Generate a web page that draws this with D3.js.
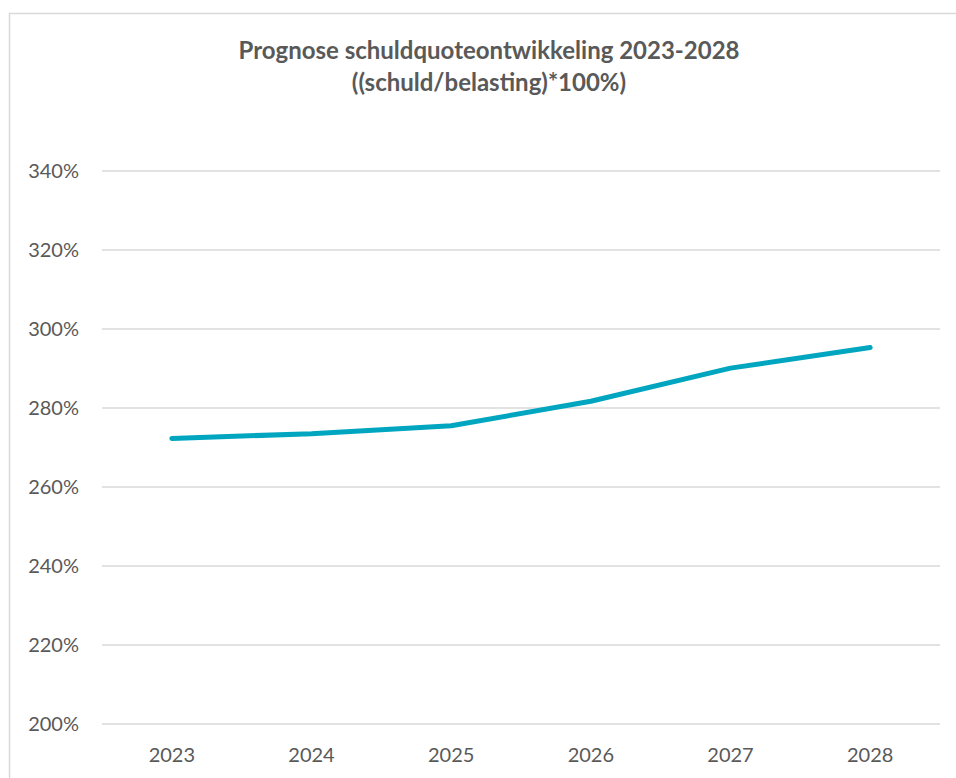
<!DOCTYPE html>
<html>
<head>
<meta charset="utf-8">
<script src="https://cdn.jsdelivr.net/npm/d3@7"></script>
<style>
  html, body { margin: 0; padding: 0; background: #fff; }
  svg { display: block; }
  text { font-family: Lato, "Open Sans", sans-serif; fill: #595959; }
</style>
</head>
<body>
<div id="chart"></div>
<script>
// data
const years = ['2023', '2024', '2025', '2026', '2027', '2028'];
const quote = [272.3, 273.5, 275.5, 281.7, 290.1, 295.3];
const yTicks = [200, 220, 240, 260, 280, 300, 320, 340];

const width = 956;
const height = 778;
const margin = { top: 171, right: 16, bottom: 54, left: 102 };

const svg = d3.select('#chart')
  .append('svg')
  .attr('width', width)
  .attr('height', height);

// chart border (runs off the right and bottom edge)
svg.append('rect')
  .attr('x', 9.5)
  .attr('y', 13.5)
  .attr('width', width + 20)
  .attr('height', height + 20)
  .attr('fill', 'none')
  .attr('stroke', '#d9d9d9')
  .attr('stroke-width', 1.5);

// title
const title = svg.append('text')
  .attr('text-anchor', 'middle')
  .attr('font-size', 24)
  .attr('font-weight', 700);
title.append('tspan').attr('x', 489).attr('y', 59).text('Prognose schuldquoteontwikkeling 2023-2028');
title.append('tspan').attr('x', 489).attr('y', 91).text('((schuld/belasting)*100%)');

const x = d3.scaleBand()
  .domain(years)
  .range([margin.left, width - margin.right]);

const y = d3.scaleLinear()
  .domain([200, 340])
  .range([height - margin.bottom, margin.top]);

// gridlines
svg.append('g')
  .selectAll('line')
  .data(yTicks)
  .enter()
  .append('line')
  .attr('x1', margin.left)
  .attr('x2', width - margin.right)
  .attr('y1', d => y(d))
  .attr('y2', d => y(d))
  .attr('stroke', '#d9d9d9')
  .attr('stroke-width', 1.5);

// y axis labels
const yAxis = svg.append('g')
  .attr('transform', `translate(${margin.left - 23},0)`)
  .call(d3.axisLeft(y).tickValues(yTicks).tickSize(0).tickPadding(0).tickFormat(d => d + '%'));
yAxis.select('.domain').remove();
yAxis.selectAll('text')
  .attr('font-size', 20)
  .attr('font-family', 'Lato, "Open Sans", sans-serif')
  .attr('fill', '#595959');

// x axis labels
const xAxis = svg.append('g')
  .attr('transform', `translate(0,${height - margin.bottom})`)
  .call(d3.axisBottom(x).tickSize(0).tickPadding(24));
xAxis.select('.domain').remove();
xAxis.selectAll('text')
  .attr('font-size', 20)
  .attr('font-family', 'Lato, "Open Sans", sans-serif')
  .attr('fill', '#595959');

// line
const line = d3.line()
  .x((d, i) => x(years[i]) + x.bandwidth() / 2)
  .y(d => y(d));

svg.append('path')
  .datum(quote)
  .attr('d', line)
  .attr('fill', 'none')
  .attr('stroke', '#00a6c0')
  .attr('stroke-width', 5)
  .attr('stroke-linecap', 'round')
  .attr('stroke-linejoin', 'round');
</script>
</body>
</html>
